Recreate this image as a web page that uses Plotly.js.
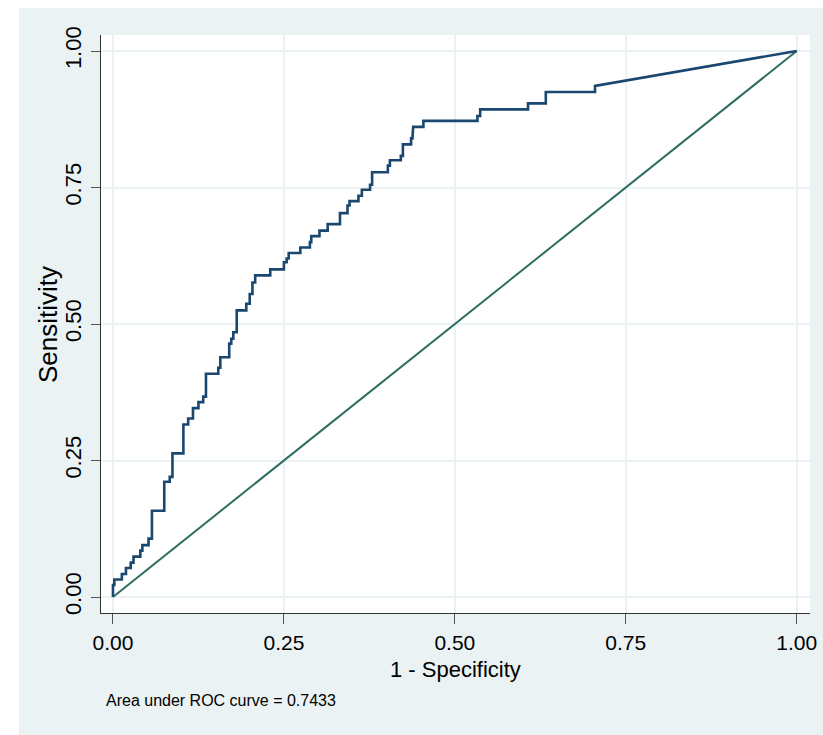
<!DOCTYPE html>
<html>
<head>
<meta charset="utf-8">
<script src="https://cdn.plot.ly/plotly-3.0.1.min.js"></script>
<style>
  html, body { margin: 0; padding: 0; background: #ffffff; width: 823px; height: 735px; overflow: hidden; }
  #plot { position: absolute; left: 19px; top: 8px; width: 804px; height: 727px; }
</style>
</head>
<body>
<div id="plot"></div>
<script>
// Step operating points of the ROC curve (1 - specificity, sensitivity)
const stepFpr = [0, 0.002, 0.013, 0.019, 0.026, 0.030, 0.040, 0.043, 0.052, 0.057, 0.075, 0.083, 0.087, 0.103, 0.110, 0.117, 0.125, 0.132, 0.136, 0.154, 0.157, 0.170, 0.173, 0.176, 0.181, 0.195, 0.200, 0.204, 0.208, 0.230, 0.250, 0.254, 0.257, 0.274, 0.288, 0.290, 0.302, 0.314, 0.332, 0.343, 0.346, 0.359, 0.364, 0.376, 0.379, 0.402, 0.405, 0.421, 0.424, 0.436, 0.438, 0.439, 0.454, 0.533, 0.537, 0.607, 0.633, 0.705, 0.705];
const stepSens = [0, 0.022, 0.032, 0.042, 0.053, 0.063, 0.074, 0.085, 0.095, 0.107, 0.158, 0.211, 0.220, 0.263, 0.316, 0.327, 0.346, 0.357, 0.367, 0.409, 0.420, 0.439, 0.464, 0.473, 0.485, 0.525, 0.537, 0.555, 0.576, 0.589, 0.600, 0.613, 0.620, 0.630, 0.640, 0.650, 0.661, 0.671, 0.683, 0.703, 0.717, 0.725, 0.735, 0.746, 0.755, 0.778, 0.790, 0.800, 0.808, 0.829, 0.840, 0.854, 0.861, 0.872, 0.881, 0.893, 0.904, 0.925, 0.936];
// Final (tied) point reached by a straight segment
const endFpr = [1];
const endSens = [1];
// Reference (chance) line
const refX = [0, 1];
const refY = [0, 1];
const tickVals = [0, 0.25, 0.5, 0.75, 1];
const tickText = ['0.00', '0.25', '0.50', '0.75', '1.00'];
const xTitle = '1 - Specificity';
const yTitle = 'Sensitivity';
const aucText = 'Area under ROC curve = 0.7433';

// Build the ROC path: vertical then horizontal between step points, then straight to the end
const rx = [stepFpr[0]], ry = [stepSens[0]];
for (let i = 1; i < stepFpr.length; i++) {
  rx.push(stepFpr[i - 1]); ry.push(stepSens[i]);
  rx.push(stepFpr[i]); ry.push(stepSens[i]);
}
for (let i = 0; i < endFpr.length; i++) { rx.push(endFpr[i]); ry.push(endSens[i]); }

const font = 'Liberation Sans, Arial, sans-serif';

const traces = [
  { x: refX, y: refY, type: 'scatter', mode: 'lines', line: { color: '#2e6e62', width: 2 }, hoverinfo: 'skip', showlegend: false },
  { x: rx, y: ry, type: 'scatter', mode: 'lines', line: { color: '#1a476f', width: 2.6 }, showlegend: false }
];

const layout = {
  width: 804, height: 727,
  margin: { l: 82, r: 13, t: 27, b: 122, pad: 0 },
  paper_bgcolor: '#eaf2f3',
  plot_bgcolor: '#ffffff',
  showlegend: false,
  xaxis: {
    range: [-0.0175, 1.0194], fixedrange: true,
    tickvals: tickVals, ticktext: tickText,
    ticks: 'outside', ticklen: 10, tickwidth: 1, tickcolor: '#555555',
    showline: true, linecolor: '#333333', linewidth: 1, mirror: false,
    showgrid: true, gridcolor: '#eaf2f3', gridwidth: 2, zeroline: false,
    tickfont: { family: font, size: 21, color: '#000000' },
    ticklabelstandoff: 1,
    automargin: false
  },
  yaxis: {
    range: [-0.0293, 1.0293], fixedrange: true,
    tickvals: tickVals, ticktext: tickText,
    ticks: 'outside', ticklen: 9, tickwidth: 1, tickcolor: '#555555',
    showline: true, linecolor: '#333333', linewidth: 1, mirror: false,
    showgrid: true, gridcolor: '#eaf2f3', gridwidth: 2, zeroline: false,
    tickangle: -90,
    tickfont: { family: font, size: 22, color: '#000000' },
    ticklabelstandoff: 1,
    automargin: false
  },
  annotations: [
    { text: xTitle, xref: 'paper', yref: 'paper', x: 0.5, y: -0.097, xanchor: 'center', yanchor: 'middle',
      showarrow: false, font: { family: font, size: 22, color: '#000000' } },
    { text: yTitle, xref: 'paper', yref: 'paper', x: -0.0748, y: 0.5, xanchor: 'center', yanchor: 'middle',
      textangle: -90, showarrow: false, font: { family: font, size: 26, color: '#000000' } },
    { text: aucText, xref: 'paper', yref: 'paper', x: 0.004, y: -0.151, xanchor: 'left', yanchor: 'middle',
      showarrow: false, font: { family: font, size: 16, color: '#000000' } }
  ]
};

Plotly.newPlot('plot', traces, layout, { displayModeBar: false, staticPlot: true });
</script>
</body>
</html>
